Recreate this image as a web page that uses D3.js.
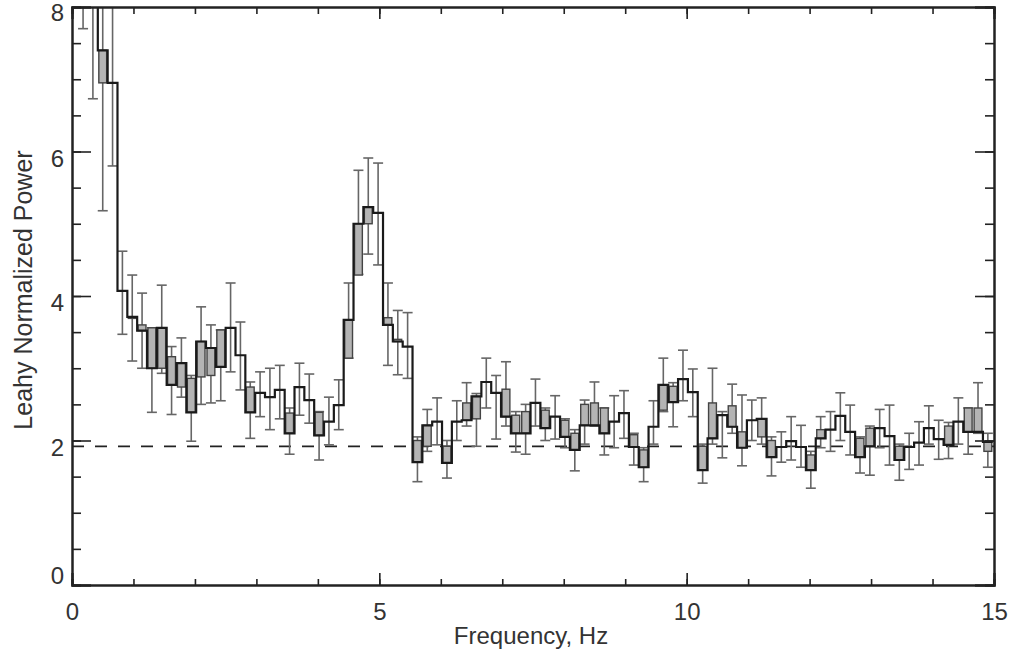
<!DOCTYPE html>
<html>
<head>
<meta charset="utf-8">
<script src="https://cdn.jsdelivr.net/npm/d3@7"></script>
<style>
  body { margin: 0; background: #fff; }
  text { font-family: "Liberation Sans", Arial, sans-serif; fill: #333; }
</style>
</head>
<body>
<svg id="psdChart" width="1014" height="656"></svg>
<script>
/****
 *
 *  power spectrum, step histogram with error bars
 *
 */

// bin layout (Hz)
const binStart = 0.1;
const binWidth = 0.16;

// black step curve
const powerMain = [9.0, 8.6, 7.4, 6.95, 4.07, 3.71, 3.52, 3.0, 3.56, 2.77,
                   3.07, 2.39, 3.37, 3.28, 3.02, 3.56, 3.18, 2.39, 2.66, 2.6,
                   2.7, 2.1, 2.74, 2.56, 2.07, 2.26, 2.49, 3.67, 5.0, 5.23,
                   5.15, 3.6, 3.37, 3.3, 1.7, 2.21, 2.26, 1.69, 2.26, 2.28,
                   2.61, 2.81, 2.66, 2.33, 2.1, 2.1, 2.52, 2.17, 2.33, 2.05,
                   1.87, 2.21, 2.21, 2.1, 2.26, 2.38, 1.91, 1.63, 2.19, 2.77,
                   2.53, 2.85, 2.67, 1.59, 2.03, 2.35, 2.19, 1.9, 2.28, 2.3,
                   1.77, 1.91, 1.99, 1.91, 1.59, 2.03, 2.15, 2.34, 2.12, 1.77,
                   1.92, 2.17, 2.06, 1.73, 1.91, 1.97, 2.17, 2.02, 1.94, 2.26,
                   2.12, 2.12, 1.98];

// second (grey) level inside each bin
const powerAlt = [9.0, 8.6, 6.95, 6.95, 4.07, 3.69, 3.6, 3.56, 3.0, 3.16,
                  2.74, 2.86, 2.88, 2.9, 3.53, 3.56, 3.18, 2.74, 2.66, 2.6,
                  2.7, 2.38, 2.74, 2.56, 2.39, 2.26, 2.49, 3.14, 4.29, 5.0,
                  5.15, 3.7, 3.4, 3.3, 2.0, 1.92, 2.26, 1.92, 2.26, 2.52,
                  2.3, 2.81, 2.66, 2.71, 2.35, 2.4, 2.52, 2.42, 2.33, 2.28,
                  2.1, 2.5, 2.52, 2.45, 2.26, 2.38, 2.08, 1.87, 2.19, 2.42,
                  2.75, 2.85, 2.67, 1.92, 2.52, 2.35, 2.48, 2.12, 2.28, 2.05,
                  2.0, 1.91, 1.99, 1.91, 1.8, 2.15, 2.15, 2.34, 2.12, 2.03,
                  2.17, 2.17, 2.06, 1.92, 1.91, 1.97, 2.17, 2.02, 2.2, 2.26,
                  2.45, 2.45, 1.85];

// error bar bounds
const errLow = [7.7, 6.73, 5.18, 5.8, 3.47, 3.1, 3.0, 2.39, 2.93, 2.36,
                2.6, 1.99, 2.5, 2.52, 2.55, 2.95, 2.7, 2.03, 2.33, 2.15,
                2.3, 1.81, 2.35, 2.24, 1.73, 1.94, 2.15, 3.14, 4.3, 4.58,
                4.43, 3.04, 2.91, 2.86, 1.43, 1.85, 1.94, 1.48, 2.0, 2.2,
                1.92, 2.45, 2.02, 2.2, 1.84, 1.81, 2.2, 2.0, 2.02, 1.9,
                1.58, 1.95, 2.2, 1.8, 1.9, 2.03, 1.66, 1.43, 1.95, 2.4,
                2.19, 2.55, 2.33, 1.41, 1.95, 1.76, 2.1, 1.65, 2.0, 1.95,
                1.51, 1.7, 1.73, 1.63, 1.34, 1.9, 1.85, 2.0, 1.8, 1.55,
                1.52, 1.9, 1.66, 1.45, 1.6, 1.66, 1.95, 1.74, 1.75, 1.95,
                1.81, 2.1, 1.63];

const errHigh = [9.5, 9.5, 9.5, 8.1, 4.62, 4.29, 4.04, 3.56, 4.15, 3.3,
                 3.42, 2.9, 3.85, 3.6, 3.53, 4.18, 3.64, 2.81, 2.95, 3.0,
                 3.04, 2.45, 3.07, 2.92, 2.4, 2.6, 2.84, 4.18, 5.74, 5.91,
                 5.84, 4.18, 3.8, 3.77, 2.05, 2.43, 2.59, 2.0, 2.55, 2.8,
                 2.65, 3.14, 2.9, 3.09, 2.4, 2.5, 2.85, 2.45, 2.62, 2.3,
                 2.15, 2.56, 2.81, 2.45, 2.62, 2.69, 2.1, 1.9, 2.55, 3.14,
                 2.8, 3.25, 2.99, 1.95, 3.0, 2.4, 2.78, 2.63, 2.56, 2.59,
                 2.05, 2.12, 2.33, 2.21, 1.85, 2.33, 2.4, 2.66, 2.49, 2.05,
                 2.2, 2.43, 2.49, 1.95, 2.1, 2.26, 2.48, 2.28, 2.25, 2.59,
                 2.45, 2.8, 2.1];

const noiseLevel = 1.92;

const xTicks = [0, 5, 10, 15];
const yTicks = [0, 2, 4, 6, 8];

function drawSpectrum(){

  // set the dimensions and margins of the graph
  let margin = {top: 7, left: 72},
      width = 994 - margin.left,
      height = 585 - margin.top;

  let svg = d3.select("#psdChart")
              .append("g")
              .attr("transform", "translate(" + margin.left + "," + margin.top + ")");

  let x = d3.scaleLinear().domain([0, 15]).range([0, width]);
  let y = d3.scaleLinear().domain([0, 8]).range([height, 0]);

  // bins built from the arrays
  let bins = powerMain.map((v, i) => ({
    x0: binStart + i * binWidth,
    x1: binStart + (i + 1) * binWidth,
    a: v,
    b: powerAlt[i],
    lo: errLow[i],
    hi: errHigh[i]
  }));

  svg.append("clipPath").attr("id", "plotClip")
     .append("rect").attr("width", width).attr("height", height);

  let plot = svg.append("g").attr("clip-path", "url(#plotClip)");

  // noise level
  plot.append("line")
      .attr("x1", 0).attr("x2", width)
      .attr("y1", y(noiseLevel)).attr("y2", y(noiseLevel))
      .attr("stroke", "#222")
      .attr("stroke-width", 1.8)
      .attr("stroke-dasharray", "12,11");

  // error bars
  let err = plot.append("g").attr("stroke", "#666").attr("stroke-width", 1.6);
  bins.forEach(d => {
    let cx = x((d.x0 + d.x1) / 2);
    err.append("line").attr("x1", cx).attr("x2", cx).attr("y1", y(d.lo)).attr("y2", y(d.hi));
    err.append("line").attr("x1", cx - 5).attr("x2", cx + 5).attr("y1", y(d.lo)).attr("y2", y(d.lo));
    err.append("line").attr("x1", cx - 5).attr("x2", cx + 5).attr("y1", y(d.hi)).attr("y2", y(d.hi));
  });

  // grey boxes between the two levels
  plot.append("g")
      .selectAll("rect")
      .data(bins.filter(d => Math.abs(d.a - d.b) > 0.01))
      .join("rect")
      .attr("x", d => x(d.x0) + 1)
      .attr("width", d => x(d.x1) - x(d.x0) - 2)
      .attr("y", d => y(Math.max(d.a, d.b)))
      .attr("height", d => Math.abs(y(d.a) - y(d.b)))
      .attr("fill", "#b4b4b4")
      .attr("stroke", "#444")
      .attr("stroke-width", 1.4);

  // step line
  let stepPts = [];
  bins.forEach(d => { stepPts.push([d.x0, d.a]); stepPts.push([d.x1, d.a]); });
  plot.append("path")
      .datum(stepPts)
      .attr("fill", "none")
      .attr("stroke", "#1a1a1a")
      .attr("stroke-width", 2.2)
      .attr("d", d3.line().x(p => x(p[0])).y(p => y(p[1])));

  // axes: bottom / left with labels, top / right plain
  let fmt = d3.format("d");
  let xMinorVals = d3.range(0, 16);
  let yMinorVals = d3.range(0, 8.01, 0.5);

  let xMajor = d3.axisBottom(x).tickValues(xTicks).tickSize(-12).tickPadding(18).tickFormat(fmt);
  let yMajor = d3.axisLeft(y).tickValues(yTicks).tickSize(-19).tickPadding(8).tickFormat(fmt);

  svg.append("g").attr("transform", "translate(0," + height + ")")
     .call(d3.axisBottom(x).tickValues(xMinorVals).tickSize(-6).tickFormat(""));
  svg.append("g").attr("class", "lab xlab").attr("transform", "translate(0," + height + ")").call(xMajor);
  svg.append("g").call(d3.axisTop(x).tickValues(xMinorVals).tickSize(-7).tickFormat(""));
  svg.append("g").call(d3.axisTop(x).tickValues(xTicks).tickSize(-12).tickFormat(""));
  svg.append("g").call(d3.axisLeft(y).tickValues(yMinorVals).tickSize(-9).tickFormat(""));
  svg.append("g").attr("class", "lab ylab").call(yMajor);
  svg.append("g").attr("transform", "translate(" + width + ",0)")
     .call(d3.axisRight(y).tickValues(yMinorVals).tickSize(-9).tickFormat(""));
  svg.append("g").attr("transform", "translate(" + width + ",0)")
     .call(d3.axisRight(y).tickValues(yTicks).tickSize(-19).tickFormat(""));

  svg.selectAll(".domain").attr("stroke", "#222").attr("stroke-width", 2);
  svg.selectAll(".tick line").attr("stroke", "#222").attr("stroke-width", 1.6);
  svg.selectAll(".lab text").attr("font-size", "24px").attr("fill", "#333")
     .style("font-family", "'Liberation Sans', Arial, sans-serif");
  // y labels sit a little below their ticks, the zero label sits on the axis
  svg.selectAll(".ylab text").attr("dy", v => v === 0 ? "-0.05em" : "0.62em");
  // keep the top label inside the window
  svg.selectAll(".ylab .tick").filter(v => v === 8).select("text").attr("dy", "0.56em");

  // axis titles
  svg.append("text")
     .attr("text-anchor", "middle")
     .attr("x", 531 - margin.left)
     .attr("y", 644 - margin.top)
     .attr("font-size", "24px")
     .text("Frequency, Hz");

  svg.append("text")
     .attr("text-anchor", "middle")
     .attr("transform", "rotate(-90)")
     .attr("x", -(290 - margin.top))
     .attr("y", 32 - margin.left)
     .attr("font-size", "25px")
     .text("Leahy Normalized Power");

} // end of drawSpectrum

drawSpectrum();
</script>
</body>
</html>
